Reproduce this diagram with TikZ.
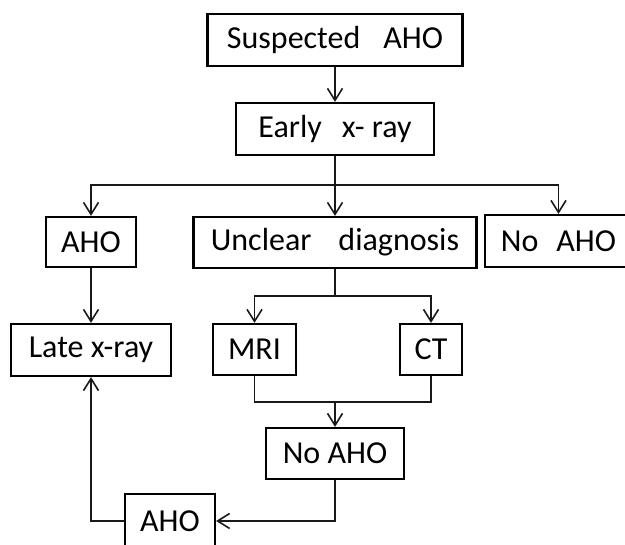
\documentclass[tikz,border=0pt]{standalone}
\usepackage{fontspec}
\setmainfont{Carlito}
\usepackage{tikz}
\usetikzlibrary{arrows.meta, positioning}
\tikzset{
  flowbox/.style={
    draw, line width=2.2pt, align=center, inner sep=0pt,
    minimum height=52pt, font=\fontsize{32}{38}\selectfont, fill=white
  },
  flowline/.style={line width=1.7pt, color=black!90},
  flowarrow/.style={flowline, -{Straight Barb[length=12pt, width=15pt, line width=1.6pt]}},
}

\begin{document}
\begin{tikzpicture}[x=1pt, y=-1pt]
  \useasboundingbox (0,0) rectangle (625,545);

  % Top of the chart
  \node[flowbox, minimum width=255pt] (susp) at (335,40) {Suspected\hspace{23pt}AHO};
  \node[flowbox, minimum width=198pt] (early) at (335,129) {Early\hspace{20pt}x- ray};

  % First outcome
  \node[flowbox, minimum width=90pt, minimum height=50pt] (aho1) at (91,242) {AHO};
  \node[flowbox, minimum width=283pt, minimum height=51pt] (unclear) at (335,242.5) {Unclear\hspace{27pt}diagnosis};
  \node[flowbox, minimum width=147pt] (noaho1) at (558.5,241) {No\hspace{18pt}AHO};

  % Imaging
  \node[flowbox, minimum width=160pt] (late) at (91,350) {Late x-ray};
  \node[flowbox, minimum width=83pt, minimum height=51pt] (mri) at (254.5,349.5) {MRI};
  \node[flowbox, minimum width=62pt, minimum height=51pt] (ct) at (431,349.5) {CT};

  % Follow-up
  \node[flowbox, minimum width=138pt, minimum height=51pt] (noaho2) at (335,453.5) {No AHO};
  \node[flowbox, minimum width=90pt, minimum height=54pt] (aho2) at (170,521) {AHO};

  % Arrows
  \coordinate (split1) at ([yshift=-29pt]early.south);
  \coordinate (split2) at ([yshift=-27pt]unclear.south);
  \coordinate (join) at (335,402);
  \draw[flowarrow] (susp) -- (early);
  \draw[flowline] (early) -- (split1);
  \draw[flowarrow] (split1) -| (aho1);
  \draw[flowarrow] (split1) -- (unclear);
  \draw[flowarrow] (split1) -| (noaho1);
  \draw[flowarrow] (aho1) -- (late);
  \draw[flowline] (unclear) -- (split2);
  \draw[flowarrow] (split2) -| (mri);
  \draw[flowarrow] (split2) -| (ct);
  \draw[flowline] (mri) |- (join) -| (ct);
  \draw[flowarrow] (join) -- (noaho2);
  \draw[flowarrow] (noaho2) |- (aho2);
  \draw[flowarrow] (aho2) -| (late);
\end{tikzpicture}
\end{document}
